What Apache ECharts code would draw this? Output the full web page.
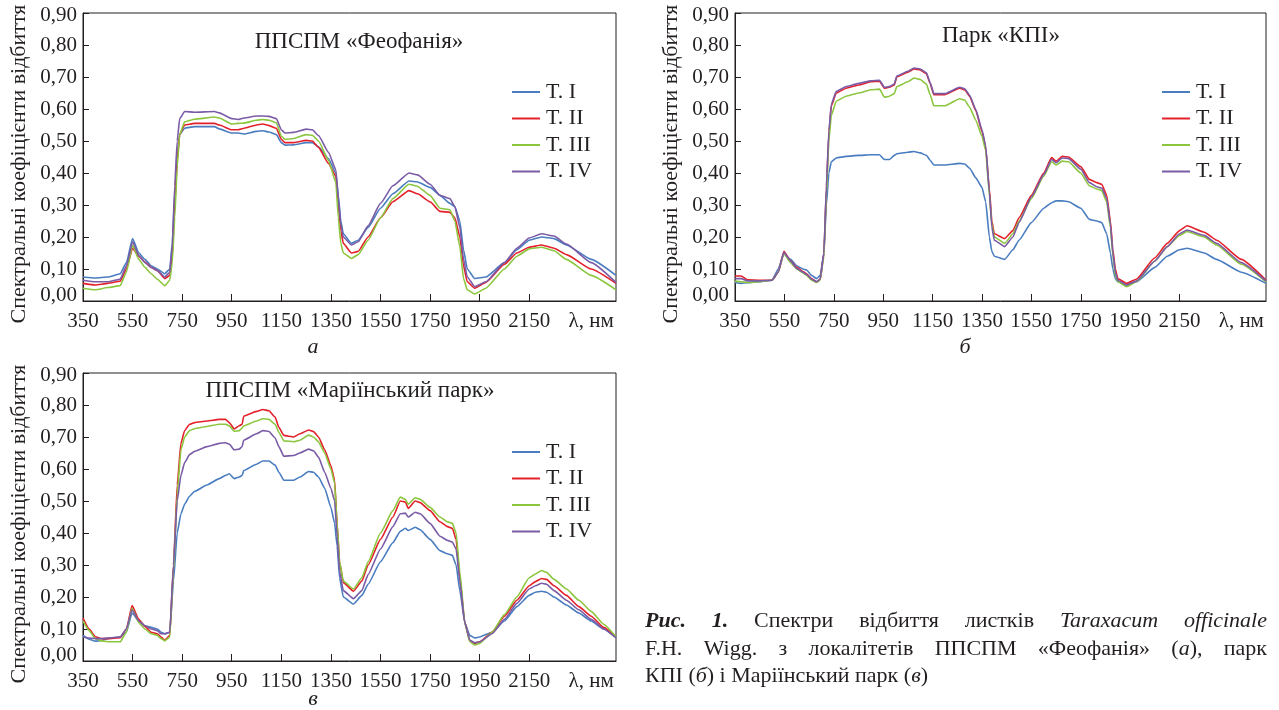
<!DOCTYPE html>
<html>
<head>
<meta charset="utf-8">
<script src="https://cdn.jsdelivr.net/npm/echarts@6/dist/echarts.min.js"></script>
<style>
html,body{margin:0;padding:0;background:#fff;}
#chart{width:1279px;height:710px;}
</style>
</head>
<body>
<div id="chart"></div>
<script>
// ---------- data ----------
const seriesNames = ['T. I', 'T. II', 'T. III', 'T. IV'];
const xTickValues = [350, 550, 750, 950, 1150, 1350, 1550, 1750, 1950, 2150];
const xUnitLabel = 'λ, нм';
const xUnitAt = 2400;
const yAxisName = 'Спектральні коефіцієнти відбиття';
const panelTitles = ['ППСПМ «Феофанія»', 'Парк «КПІ»', 'ППСПМ «Маріїнський парк»'];
const panelLetters = ['а', 'б', 'в'];

// Panel a: ППСПМ «Феофанія»
const wlA = [350,400,450,500,525,550,575,600,625,650,680,700,710,720,730,740,760,800,880,900,950,975,1000,1050,1075,1100,1130,1150,1165,1200,1250,1275,1300,1340,1370,1380,1390,1400,1433,1460,1500,1550,1600,1665,1700,1750,1790,1830,1850,1870,1885,1900,1930,1975,2050,2100,2150,2200,2250,2300,2400,2500];
const aT1 = [0.075,0.072,0.075,0.085,0.12,0.195,0.15,0.13,0.11,0.10,0.085,0.10,0.18,0.33,0.45,0.52,0.54,0.545,0.545,0.538,0.525,0.525,0.522,0.53,0.532,0.528,0.52,0.495,0.487,0.488,0.495,0.495,0.482,0.445,0.40,0.33,0.25,0.21,0.18,0.19,0.23,0.29,0.335,0.375,0.372,0.355,0.33,0.305,0.295,0.25,0.16,0.10,0.07,0.075,0.12,0.16,0.19,0.20,0.195,0.175,0.13,0.08];
const aT2 = [0.055,0.05,0.055,0.062,0.10,0.165,0.14,0.122,0.105,0.095,0.07,0.08,0.14,0.30,0.44,0.52,0.55,0.555,0.555,0.55,0.535,0.535,0.54,0.55,0.553,0.548,0.54,0.505,0.495,0.495,0.502,0.50,0.48,0.43,0.39,0.30,0.22,0.18,0.15,0.155,0.20,0.26,0.31,0.345,0.335,0.31,0.28,0.277,0.26,0.20,0.11,0.06,0.04,0.058,0.115,0.15,0.168,0.175,0.165,0.145,0.10,0.055];
const aT3 = [0.04,0.035,0.042,0.048,0.09,0.175,0.13,0.105,0.085,0.068,0.048,0.065,0.12,0.26,0.42,0.52,0.56,0.568,0.575,0.572,0.553,0.555,0.556,0.565,0.567,0.565,0.557,0.515,0.505,0.508,0.52,0.518,0.50,0.44,0.37,0.26,0.18,0.15,0.133,0.145,0.19,0.26,0.32,0.365,0.358,0.33,0.29,0.285,0.25,0.17,0.07,0.035,0.022,0.04,0.10,0.14,0.163,0.168,0.157,0.13,0.08,0.035];
const aT4 = [0.065,0.06,0.06,0.068,0.11,0.185,0.142,0.12,0.105,0.095,0.075,0.09,0.17,0.36,0.50,0.57,0.592,0.59,0.592,0.588,0.57,0.567,0.572,0.578,0.578,0.577,0.57,0.535,0.525,0.527,0.537,0.535,0.517,0.465,0.41,0.32,0.24,0.20,0.175,0.185,0.235,0.305,0.36,0.40,0.394,0.365,0.33,0.32,0.295,0.23,0.13,0.075,0.045,0.06,0.12,0.165,0.197,0.21,0.203,0.178,0.12,0.058];

// Panel b: Парк «КПІ»
const wlB = [350,375,400,450,500,525,548,575,600,625,640,660,680,695,710,720,730,740,760,800,850,900,935,955,975,995,1005,1050,1075,1100,1125,1140,1155,1200,1260,1280,1300,1325,1350,1365,1380,1390,1400,1442,1475,1500,1550,1600,1632,1650,1675,1700,1750,1785,1815,1835,1855,1870,1880,1890,1900,1936,1975,2050,2100,2150,2180,2250,2300,2400,2500];
const bT1 = [0.058,0.055,0.057,0.06,0.065,0.10,0.148,0.13,0.11,0.10,0.097,0.08,0.07,0.08,0.15,0.30,0.40,0.435,0.447,0.452,0.455,0.457,0.457,0.442,0.442,0.455,0.46,0.465,0.467,0.463,0.455,0.44,0.425,0.425,0.43,0.428,0.415,0.385,0.355,0.31,0.20,0.155,0.14,0.13,0.16,0.19,0.245,0.29,0.307,0.313,0.313,0.31,0.29,0.255,0.25,0.245,0.21,0.15,0.10,0.07,0.06,0.05,0.06,0.105,0.14,0.16,0.165,0.15,0.13,0.09,0.055];
const bT2 = [0.078,0.078,0.066,0.065,0.065,0.09,0.155,0.125,0.105,0.092,0.085,0.07,0.06,0.068,0.15,0.35,0.52,0.61,0.65,0.665,0.675,0.685,0.687,0.665,0.668,0.675,0.70,0.715,0.725,0.722,0.71,0.68,0.645,0.645,0.665,0.66,0.64,0.595,0.53,0.48,0.35,0.25,0.21,0.195,0.22,0.26,0.33,0.40,0.448,0.437,0.452,0.45,0.42,0.38,0.37,0.365,0.33,0.25,0.16,0.10,0.07,0.055,0.068,0.135,0.18,0.22,0.235,0.215,0.19,0.13,0.065];
const bT3 = [0.062,0.06,0.058,0.06,0.065,0.09,0.148,0.12,0.10,0.088,0.08,0.065,0.058,0.065,0.14,0.33,0.50,0.58,0.625,0.64,0.65,0.66,0.662,0.637,0.64,0.648,0.67,0.685,0.697,0.692,0.678,0.645,0.61,0.61,0.632,0.628,0.605,0.565,0.515,0.47,0.33,0.24,0.20,0.18,0.21,0.25,0.32,0.39,0.435,0.425,0.437,0.435,0.40,0.36,0.35,0.345,0.31,0.23,0.14,0.08,0.06,0.045,0.06,0.125,0.17,0.205,0.217,0.20,0.175,0.115,0.06];
const bT4 = [0.07,0.07,0.063,0.063,0.065,0.09,0.152,0.125,0.102,0.09,0.083,0.068,0.06,0.068,0.15,0.36,0.53,0.615,0.655,0.67,0.68,0.688,0.69,0.668,0.67,0.678,0.703,0.718,0.728,0.725,0.713,0.683,0.648,0.648,0.668,0.663,0.643,0.598,0.535,0.485,0.34,0.23,0.19,0.17,0.20,0.245,0.325,0.395,0.442,0.432,0.447,0.445,0.412,0.37,0.357,0.353,0.32,0.24,0.15,0.09,0.065,0.05,0.062,0.125,0.17,0.21,0.222,0.205,0.18,0.12,0.062];

// Panel в: ППСПМ «Маріїнський парк»
const wlC = [350,375,400,425,450,500,525,548,575,600,625,650,665,680,700,715,730,745,760,780,800,850,900,925,940,960,980,992,998,1050,1075,1100,1125,1140,1160,1200,1225,1260,1280,1300,1325,1350,1365,1375,1385,1400,1441,1475,1500,1550,1600,1630,1650,1662,1690,1710,1750,1790,1820,1840,1855,1870,1890,1910,1930,1950,2000,2050,2100,2150,2175,2200,2220,2250,2300,2350,2400,2450,2500];
const cT1 = [0.08,0.068,0.062,0.064,0.07,0.075,0.09,0.15,0.125,0.11,0.105,0.10,0.09,0.085,0.09,0.25,0.40,0.46,0.49,0.515,0.53,0.55,0.57,0.58,0.585,0.57,0.575,0.58,0.595,0.615,0.625,0.625,0.612,0.59,0.565,0.565,0.575,0.592,0.59,0.575,0.54,0.48,0.43,0.36,0.26,0.20,0.178,0.205,0.24,0.31,0.37,0.405,0.415,0.408,0.418,0.41,0.38,0.345,0.335,0.33,0.30,0.22,0.12,0.08,0.072,0.075,0.09,0.125,0.17,0.205,0.215,0.218,0.215,0.20,0.175,0.15,0.125,0.10,0.073];
const cT2 = [0.134,0.10,0.076,0.07,0.07,0.073,0.10,0.173,0.13,0.108,0.09,0.085,0.075,0.065,0.08,0.30,0.55,0.68,0.72,0.74,0.745,0.75,0.755,0.755,0.745,0.725,0.735,0.74,0.765,0.78,0.786,0.782,0.762,0.73,0.705,0.70,0.71,0.722,0.717,0.70,0.66,0.61,0.565,0.43,0.31,0.245,0.218,0.25,0.30,0.38,0.45,0.50,0.497,0.477,0.50,0.495,0.47,0.435,0.42,0.415,0.38,0.26,0.12,0.065,0.055,0.06,0.09,0.14,0.19,0.235,0.248,0.258,0.255,0.235,0.205,0.17,0.14,0.105,0.075];
const cT3 = [0.125,0.095,0.07,0.063,0.06,0.06,0.09,0.165,0.12,0.10,0.085,0.08,0.07,0.063,0.075,0.28,0.52,0.66,0.70,0.72,0.726,0.733,0.74,0.74,0.735,0.718,0.72,0.728,0.735,0.75,0.757,0.755,0.74,0.715,0.688,0.685,0.69,0.706,0.70,0.685,0.65,0.60,0.555,0.43,0.31,0.25,0.225,0.26,0.31,0.40,0.47,0.512,0.505,0.49,0.51,0.505,0.48,0.45,0.435,0.43,0.40,0.28,0.12,0.06,0.05,0.055,0.09,0.145,0.20,0.26,0.272,0.283,0.277,0.255,0.225,0.19,0.155,0.115,0.075];
const cT4 = [0.075,0.072,0.07,0.07,0.072,0.075,0.10,0.16,0.125,0.11,0.10,0.095,0.085,0.085,0.09,0.30,0.50,0.58,0.62,0.645,0.655,0.67,0.68,0.682,0.678,0.66,0.662,0.67,0.69,0.71,0.72,0.717,0.697,0.67,0.64,0.642,0.65,0.662,0.657,0.637,0.59,0.54,0.50,0.39,0.28,0.22,0.195,0.22,0.27,0.35,0.42,0.46,0.462,0.45,0.465,0.46,0.43,0.39,0.377,0.372,0.35,0.25,0.12,0.065,0.057,0.06,0.085,0.13,0.18,0.225,0.235,0.243,0.24,0.22,0.19,0.16,0.13,0.10,0.072];

// caption
const captionLine1 = [[['b','Рис.']],[['b','1.']],[['n','Спектри']],[['n','відбиття']],[['n','листків']],[['i','Taraxacum']],[['i','officinale']]];
const captionLine2 = [[['n','F.H.']],[['n','Wigg.']],[['n','з']],[['n','локалітетів']],[['n','ППСПМ']],[['n','«Феофанія»']],[['n','('],['i','а'],['n','),']],[['n','парк']]];
const captionLine3 = [[['n','КПІ']],[['n','('],['i','б'],['n',')']],[['n','і']],[['n','Маріїнський']],[['n','парк']],[['n','('],['i','в'],['n',')']]];

// ---------- styling ----------
const FONT = '"Liberation Serif", "Times New Roman", serif';
const TXT = '#231f20';
const colors = ['#4a7dc0', '#e3202a', '#8cc63e', '#7a5ba6'];

const panels = [
  {wl: wlA, vals: [aT1, aT2, aT3, aT4], grid: {left: 83, top: 13, width: 533, height: 288}, legend: {left: 507, top: 76}, title: {x: 359, y: 42}, letter: {x: 313, y: 347}},
  {wl: wlB, vals: [bT1, bT2, bT3, bT4], grid: {left: 735, top: 13, width: 531, height: 288}, legend: {left: 1157, top: 76}, title: {x: 1001, y: 36}, letter: {x: 965, y: 347}},
  {wl: wlC, vals: [cT1, cT2, cT3, cT4], grid: {left: 83, top: 373, width: 533, height: 288}, legend: {left: 507, top: 436}, title: {x: 350, y: 391}, letter: {x: 313, y: 699}}
];

const yFmt = v => (Math.round(v * 100) / 100).toFixed(2).replace('.', ',');

const grids = [], xAxes = [], yAxes = [], series = [], legends = [], graphics = [];
panels.forEach((p, gi) => {
  grids.push(Object.assign({show: true, borderColor: TXT, borderWidth: 1, backgroundColor: 'transparent'}, p.grid));
  xAxes.push({
    type: 'value', gridIndex: gi, min: 350, max: 2500,
    axisLine: {show: true, lineStyle: {color: TXT, width: 1}},
    axisTick: {show: true, inside: true, length: 7, customValues: xTickValues, lineStyle: {color: TXT}},
    axisLabel: {customValues: xTickValues.concat([xUnitAt]), margin: 10, fontFamily: FONT, fontSize: 21, color: TXT,
      formatter: v => v === xUnitAt ? xUnitLabel : String(v)},
    splitLine: {show: false}
  });
  yAxes.push({
    type: 'value', gridIndex: gi, min: 0, max: 0.9, interval: 0.1,
    name: yAxisName, nameLocation: 'middle', nameGap: 53, nameRotate: 90,
    nameTextStyle: {fontFamily: FONT, fontSize: 22, color: TXT, padding: [0, 14, 0, 0]},
    axisLine: {show: true, lineStyle: {color: TXT, width: 1}},
    axisTick: {show: true, inside: true, length: 6, lineStyle: {color: TXT}},
    axisLabel: {margin: 6, fontFamily: FONT, fontSize: 21, color: TXT,
      formatter: v => v === 0 ? '{z|' + yFmt(v) + '}' : (Math.abs(v - 0.9) < 1e-6 ? '{t|' + yFmt(v) + '}' : yFmt(v)),
      rich: {
        z: {fontFamily: FONT, fontSize: 21, color: TXT, padding: [0, 0, 12, 0]},
        t: {fontFamily: FONT, fontSize: 21, color: TXT, padding: [4, 0, 0, 0]}
      }},
    splitLine: {show: false}
  });
  seriesNames.forEach((nm, si) => {
    series.push({
      type: 'line', name: nm, xAxisIndex: gi, yAxisIndex: gi,
      data: p.wl.map((w, k) => [w, p.vals[si][k]]),
      symbol: 'none', silent: true, smooth: 0.15, smoothMonotone: 'x',
      lineStyle: {color: colors[si], width: 1.6},
      itemStyle: {color: colors[si]}
    });
  });
  legends.push({
    orient: 'vertical', left: p.legend.left, top: p.legend.top,
    icon: 'rect', itemWidth: 28, itemHeight: 2, itemGap: 4.5,
    selectedMode: false,
    textStyle: {fontFamily: FONT, fontSize: 22, color: TXT, lineHeight: 22, padding: [0, 0, 0, 1]},
    data: seriesNames
  });
  graphics.push({type: 'text', x: p.title.x, y: p.title.y, silent: true,
    style: {text: panelTitles[gi], font: '23px ' + FONT, fill: TXT, align: 'center', verticalAlign: 'middle'}});
  graphics.push({type: 'text', x: p.letter.x, y: p.letter.y, silent: true,
    style: {text: panelLetters[gi], font: 'italic 22px ' + FONT, fill: TXT, align: 'center', verticalAlign: 'middle'}});
});

// caption with justified lines
const capFonts = {b: 'italic bold 22px ' + FONT, i: 'italic 22px ' + FONT, n: '22px ' + FONT};
const mctx = document.createElement('canvas').getContext('2d');
function segW(seg) { mctx.font = capFonts[seg[0]]; return mctx.measureText(seg[1]).width; }
function wordW(word) { return word.reduce((s, seg) => s + segW(seg), 0); }
function placeLine(words, x0, x1, y, justify) {
  const widths = words.map(wordW);
  const total = widths.reduce((a, b) => a + b, 0);
  mctx.font = capFonts.n;
  const spaceW = mctx.measureText(' ').width;
  const gap = justify ? (x1 - x0 - total) / (words.length - 1) : spaceW;
  let x = x0;
  words.forEach((word, wi) => {
    let sx = x;
    word.forEach(seg => {
      graphics.push({type: 'text', x: sx, y: y, silent: true,
        style: {text: seg[1], font: capFonts[seg[0]], fill: TXT, align: 'left', verticalAlign: 'middle'}});
      sx += segW(seg);
    });
    x += widths[wi] + gap;
  });
}
placeLine(captionLine1, 645, 1267, 621, true);
placeLine(captionLine2, 645, 1267, 649, true);
placeLine(captionLine3, 645, 1267, 676, false);

const chart = echarts.init(document.getElementById('chart'), null, {renderer: 'canvas'});
chart.setOption({
  backgroundColor: '#ffffff',
  animation: false,
  grid: grids, xAxis: xAxes, yAxis: yAxes, series: series, legend: legends,
  graphic: graphics
});
</script>
</body>
</html>
